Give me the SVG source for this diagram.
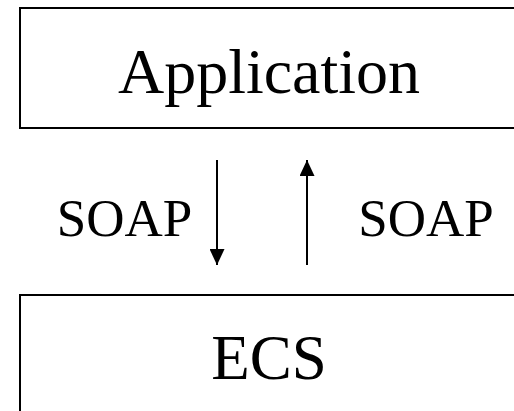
<svg xmlns="http://www.w3.org/2000/svg" width="514" height="411" viewBox="0 0 514 411">
<defs>
<style>
.box{fill:#fff;stroke:#000;stroke-width:2}
.lbl{font-family:"Liberation Serif","Times New Roman",serif;fill:#000}
.conn{stroke:#000;stroke-width:2;fill:none}
</style>
<marker id="ah" viewBox="0 0 16 15" refX="16" refY="7.5" markerWidth="16" markerHeight="15" markerUnits="userSpaceOnUse" orient="auto">
<path d="M0,0 L16,7.5 L0,15 Z" fill="#000"/>
</marker>
</defs>
<rect width="514" height="411" fill="#fff"/>
<g id="application">
<rect class="box" x="20" y="8" width="510" height="120"/>
<text class="lbl" x="269" y="93" font-size="64" text-anchor="middle">Application</text>
</g>
<g id="ecs">
<rect class="box" x="20" y="295" width="510" height="130"/>
<text class="lbl" x="269" y="379" font-size="63" text-anchor="middle">ECS</text>
</g>
<g id="connectors">
<line class="conn" x1="217" y1="160" x2="217" y2="265" marker-end="url(#ah)"/>
<line class="conn" x1="307" y1="265" x2="307" y2="160" marker-end="url(#ah)"/>
<text class="lbl" x="124.5" y="236" font-size="53" text-anchor="middle">SOAP</text>
<text class="lbl" x="426" y="236" font-size="53" text-anchor="middle">SOAP</text>
</g>
</svg>
